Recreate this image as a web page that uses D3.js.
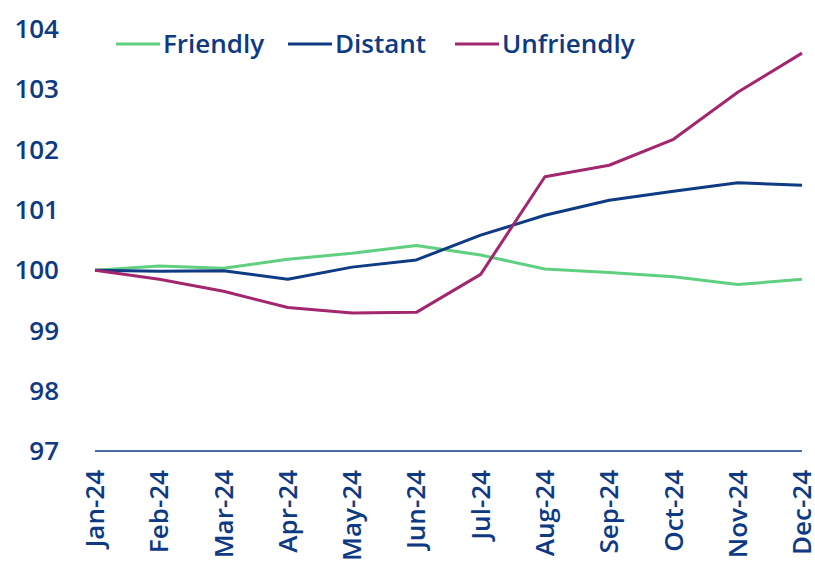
<!DOCTYPE html>
<html lang="en">
<head>
  <meta charset="UTF-8">
  <title>Friendly vs Distant vs Unfriendly</title>
  <script src="https://d3js.org/d3.v7.min.js"></script>
  <style>
    body { margin: 0; background: #fff; }
    svg { font-family: "Open Sans", sans-serif; font-weight: 600; }
    .tick-label { fill: #0d3a82; font-size: 26px; }
    .legend-label { fill: #0d3a82; font-size: 26px; }
  </style>
</head>
<body>
  <svg id="chart"></svg>
  <script>
    // months on the x axis
    const months = ["Jan-24", "Feb-24", "Mar-24", "Apr-24", "May-24", "Jun-24",
                    "Jul-24", "Aug-24", "Sep-24", "Oct-24", "Nov-24", "Dec-24"];

    // series values (index, Jan-24 = 100)
    const friendly   = [100, 100.07, 100.03, 100.18, 100.28, 100.41, 100.25, 100.02, 99.96, 99.89, 99.76, 99.85];
    const distant    = [100, 99.98, 99.99, 99.85, 100.05, 100.17, 100.58, 100.91, 101.16, 101.31, 101.45, 101.41];
    const unfriendly = [100, 99.85, 99.65, 99.38, 99.29, 99.30, 99.93, 101.55, 101.74, 102.17, 102.95, 103.6];

    const yTicks = [97, 98, 99, 100, 101, 102, 103, 104];

    const seriesNames = ["Friendly", "Distant", "Unfriendly"];
    const seriesColors = ["#5fcf80", "#0f3b85", "#a3276f"];

    const width = 815, height = 567;
    const svg = d3.select("#chart")
      .attr("width", width)
      .attr("height", height);

    const x = d3.scalePoint()
      .domain(months)
      .range([95, 802]);

    const y = d3.scaleLinear()
      .domain([97, 104])
      .range([451, 29]);

    // baseline at 97
    svg.append("line")
      .attr("x1", x(months[0]))
      .attr("x2", x(months[months.length - 1]))
      .attr("y1", y(97))
      .attr("y2", y(97))
      .attr("stroke", "#0f3b85")
      .attr("stroke-width", 1.5);

    // y axis labels
    svg.append("g")
      .selectAll("text")
      .data(yTicks)
      .enter().append("text")
      .attr("class", "tick-label")
      .attr("x", 59)
      .attr("y", d => y(d))
      .attr("dy", "0.35em")
      .attr("text-anchor", "end")
      .text(d => d);

    // x axis labels, rotated
    svg.append("g")
      .selectAll("text")
      .data(months)
      .enter().append("text")
      .attr("class", "tick-label")
      .attr("transform", d => "translate(" + x(d) + ",470) rotate(-90)")
      .attr("dy", "0.35em")
      .attr("text-anchor", "end")
      .text(d => d);

    // lines
    const line = d3.line()
      .x((d, i) => x(months[i]))
      .y(d => y(d));

    [friendly, distant, unfriendly].forEach((vals, i) => {
      svg.append("path")
        .datum(vals)
        .attr("fill", "none")
        .attr("stroke", seriesColors[i])
        .attr("stroke-width", 3)
        .attr("stroke-linejoin", "round")
        .attr("d", line);
    });

    // legend
    const legendX = [116, 288, 455];
    const legend = svg.append("g");
    seriesNames.forEach((name, i) => {
      legend.append("line")
        .attr("x1", legendX[i])
        .attr("x2", legendX[i] + 44)
        .attr("y1", 44)
        .attr("y2", 44)
        .attr("stroke", seriesColors[i])
        .attr("stroke-width", 3);
      legend.append("text")
        .attr("class", "legend-label")
        .attr("x", legendX[i] + 47)
        .attr("y", 44)
        .attr("dy", "0.35em")
        .text(name);
    });
  </script>
</body>
</html>
